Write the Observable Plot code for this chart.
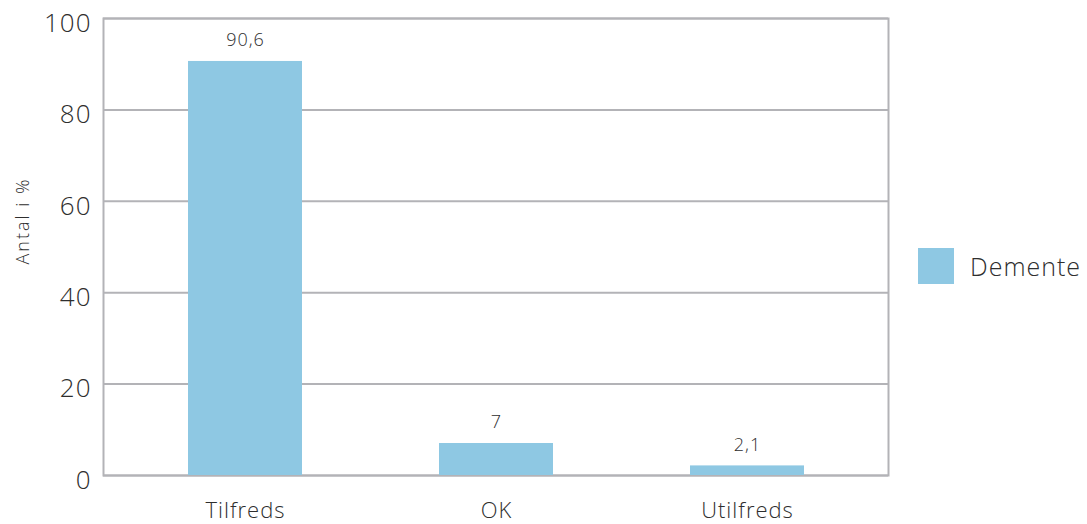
<!DOCTYPE html>
<html>
<head>
<meta charset="utf-8">
<script src="https://cdn.jsdelivr.net/npm/d3@7"></script>
<script src="https://cdn.jsdelivr.net/npm/@observablehq/plot@0.6"></script>
<style>
  body { margin: 0; background: #fff; font-family: "Open Sans", "Noto Sans", sans-serif; }
  #wrap { position: relative; width: 1087px; height: 524px; overflow: hidden; }
  #chart svg text { font-weight: 300; letter-spacing: 1px; }
  #ylabel { position: absolute; left: 22px; top: 221px; transform: translate(-50%, -50%) rotate(-90deg); font-size: 18px; font-weight: 300; letter-spacing: 2px; color: #2e2e2e; white-space: nowrap; }
  #legend { position: absolute; left: 918px; top: 248px; display: flex; align-items: center; font-size: 25px; font-weight: 300; letter-spacing: 1px; color: #2e2e2e; }
  #legend .sw { width: 36px; height: 36px; background: #8ec8e3; margin-right: 16px; }
</style>
</head>
<body>
<div id="wrap">
  <div id="chart"></div>
  <div id="ylabel">Antal i %</div>
  <div id="legend"><div class="sw"></div><span>Demente</span></div>
</div>
<script>
const categories = ["Tilfreds", "OK", "Utilfreds"];
const values = [90.6, 7, 2.1];
const seriesName = "Demente";
const yTicks = [0, 20, 40, 60, 80, 100];

const data = categories.map((c, i) => ({category: c, value: values[i], series: seriesName}));
const fmt = v => String(v).replace(".", ",");
const grid = "#b3b3b7";

const chart = Plot.plot({
  width: 1087,
  height: 524,
  marginLeft: 103,
  marginRight: 199,
  marginTop: 18,
  marginBottom: 49,
  style: {fontFamily: "'Open Sans', 'Noto Sans', sans-serif", color: "#2e2e2e", background: "#fff"},
  x: {domain: categories, paddingInner: 0.547, paddingOuter: 0.334, label: null},
  y: {domain: [0, 100], label: null},
  marks: [
    Plot.ruleY(yTicks, {stroke: grid, strokeWidth: 2}),
    Plot.frame({stroke: grid, strokeWidth: 2}),
    Plot.barY(data, {x: "category", y: "value", fill: "#8ec8e3"}),
    Plot.text(data, {x: "category", y: "value", text: d => fmt(d.value), dy: -21, fontSize: 18, fill: "#2e2e2e"}),
    Plot.axisY({ticks: yTicks, tickSize: 0, tickPadding: 12, dy: 5, fontSize: 26, label: null, fill: "#2e2e2e"}),
    Plot.axisX({tickSize: 0, tickPadding: 27, fontSize: 22, label: null, fill: "#2e2e2e"})
  ]
});
document.getElementById("chart").appendChild(chart);
</script>
</body>
</html>
